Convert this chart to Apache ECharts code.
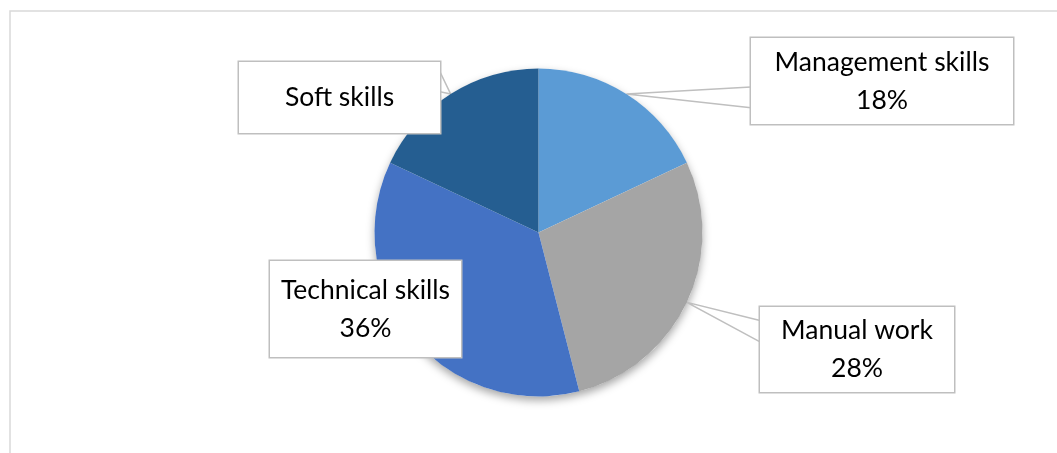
<!DOCTYPE html>
<html>
<head>
<meta charset="utf-8">
<script src="https://cdn.jsdelivr.net/npm/echarts@6/dist/echarts.min.js"></script>
<style>
  html, body { margin: 0; padding: 0; background: #fff; }
  #chart { width: 1057px; height: 453px; }
</style>
</head>
<body>
<div id="chart"></div>
<script>
// ---- data ----
const categories = ['Management skills', 'Manual work', 'Technical skills', 'Soft skills'];
const values = [18, 28, 36, 18];
const showPercent = [true, true, true, false];
const sliceColors = ['#5B9BD5', '#A5A5A5', '#4472C4', '#255E91'];

// ---- callout box layout (style only) ----
const callouts = [
  { left: 751, top: 38, w: 262, h: 86, side: 'left', f: [0.57, 0.81] },
  { left: 760, top: 307, w: 194, h: 85, side: 'left', f: [0.16, 0.41] },
  { left: 270, top: 261, w: 191, h: 96, side: 'none', f: null },
  { left: 239, top: 62, w: 201, h: 71, side: 'right', f: [0.14, 0.42] }
];
const LINE_H = 38;
const CENTER = [538.5, 232.5];
const RADIUS = 164;

const chart = echarts.init(document.getElementById('chart'), null, { renderer: 'canvas' });

const total = values.reduce((a, b) => a + b, 0);

const mainData = categories.map((name, i) => {
  const c = callouts[i];
  const lines = showPercent[i] ? 2 : 1;
  const pv = (c.h - lines * LINE_H) / 2;
  return {
    name: name,
    value: values[i],
    itemStyle: { color: sliceColors[i] },
    label: { width: c.w, padding: [pv, 0, pv, 0] },
    labelLine: { show: c.side !== 'none' }
  };
});

chart.setOption({
  animation: false,
  backgroundColor: '#ffffff',
  graphic: [{
    type: 'rect',
    silent: true,
    shape: { x: 10, y: 11, width: 1200, height: 600 },
    style: { fill: 'none', stroke: '#d9d9d9', lineWidth: 1.5 }
  }],
  series: [
    {
      type: 'pie',
      silent: true,
      z: 1,
      center: CENTER,
      radius: RADIUS,
      data: [{ name: 'total', value: total }],
      label: { show: false },
      labelLine: { show: false },
      itemStyle: {
        color: '#ffffff',
        shadowBlur: 9,
        shadowOffsetY: 4,
        shadowColor: 'rgba(0,0,0,0.35)'
      }
    },
    {
      type: 'pie',
      z: 2,
      center: CENTER,
      radius: RADIUS,
      startAngle: 90,
      clockwise: true,
      data: mainData,
      itemStyle: { borderWidth: 0 },
      label: {
        show: true,
        position: 'outside',
        fontFamily: 'Lato',
        fontSize: 26.5,
        lineHeight: LINE_H,
        color: '#000000',
        align: 'center',
        verticalAlign: 'middle',
        backgroundColor: '#ffffff',
        borderColor: '#bfbfbf',
        borderWidth: 1.5,
        formatter: function (p) {
          return showPercent[p.dataIndex] ? p.name + '\n' + Math.round(p.percent) + '%' : p.name;
        }
      },
      labelLine: {
        show: true,
        smooth: false,
        length: 10,
        length2: 10,
        lineStyle: { color: '#bfbfbf', width: 1.5 }
      },
      labelLayout: function (params) {
        const c = callouts[params.dataIndex];
        const res = {
          x: c.left + c.w / 2,
          y: c.top + c.h / 2,
          align: 'center',
          verticalAlign: 'middle'
        };
        if (c.side !== 'none') {
          let tip;
          if (params.labelLinePoints && params.labelLinePoints[0]) {
            tip = params.labelLinePoints[0];
          } else {
            let before = 0;
            for (let k = 0; k < params.dataIndex; k++) before += values[k];
            const mid = (before + values[params.dataIndex] / 2) / total * Math.PI * 2;
            tip = [CENTER[0] + RADIUS * Math.sin(mid), CENTER[1] - RADIUS * Math.cos(mid)];
          }
          const ex = c.side === 'left' ? c.left : c.left + c.w;
          res.labelLinePoints = [
            [ex, c.top + c.f[0] * c.h],
            [tip[0], tip[1]],
            [ex, c.top + c.f[1] * c.h]
          ];
        }
        return res;
      }
    }
  ]
});
</script>
</body>
</html>
